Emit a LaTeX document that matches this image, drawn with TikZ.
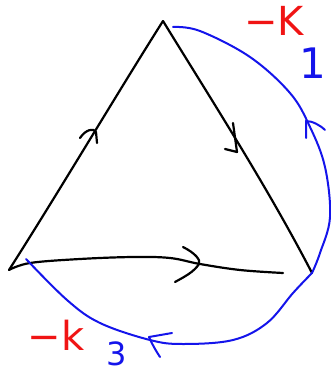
\documentclass[tikz,border=0pt]{standalone}
\usepackage{fontspec}
\setmainfont{DejaVu Sans}
\definecolor{penblue}{RGB}{20,20,235}
\definecolor{penred}{RGB}{240,20,20}
\begin{document}
\begin{tikzpicture}[x=1pt,y=-1pt,
  edge/.style={line width=2.2pt, line cap=round, line join=round, black},
  arc/.style={line width=2pt, line cap=round, line join=round, penblue},
  lblK/.style={font=\fontsize{40}{42}\selectfont, inner sep=0pt, text=penred},
  lblOne/.style={font=\fontsize{42}{44}\selectfont, inner sep=0pt, text=penblue},
  lblk/.style={font=\fontsize{40}{42}\selectfont, inner sep=0pt, text=penred},
  lblThree/.style={font=\fontsize{32}{34}\selectfont, inner sep=0pt, text=penblue}]
\useasboundingbox (0,0) rectangle (331,374);
\coordinate (T) at (163,21);
\coordinate (L) at (9,270);
\coordinate (R) at (312,273);
\coordinate (Bend) at (283,273);
\coordinate (Bs) at (173,27);
\coordinate (Bl) at (26,259);
% left edge
\draw[edge] (L) .. controls (60,190) and (118,92) .. (T);
\draw[edge] (80,138) .. controls (86,129) and (94,128) .. (96,132) -- (97,143);
% right edge
\draw[edge] (T) .. controls (214,104) and (268,188) .. (R);
\draw[edge] (233,123) -- (237,152) -- (225,149);
% bottom edge
\draw[edge] plot[smooth, tension=0.6] coordinates {(L) (30,263) (80,259) (133,257) (170,258) (200,264) (240,270) (Bend)};
\draw[edge] (183,247) .. controls (195,253) and (201,260) .. (199,264) .. controls (194,272) and (184,277) .. (175,282);
% blue arcs
\draw[arc] plot[smooth, tension=0.6] coordinates {(R) (320,253) (330,217) (325,167) (310,127) (290,93) (250,57) (200,31) (Bs)};
\draw[arc] (306,138) -- (306,121) .. controls (312,121) and (320,125) .. (325,130);
\draw[arc] plot[smooth, tension=0.6] coordinates {(R) (293,293) (267,323) (233,340) (183,344) (150,340) (100,323) (67,300) (Bl)};
\draw[arc] (172,333) -- (149,337) .. controls (152,344) and (156,351) .. (160,357);
% labels
\node[lblK] (k1) at (274,21) {−K};
\node[lblOne] (n1) at (313,63) {1};
\node[lblk] (k3) at (56,335) {−k};
\node[lblThree] (n3) at (117,354) {3};
\end{tikzpicture}
\end{document}
